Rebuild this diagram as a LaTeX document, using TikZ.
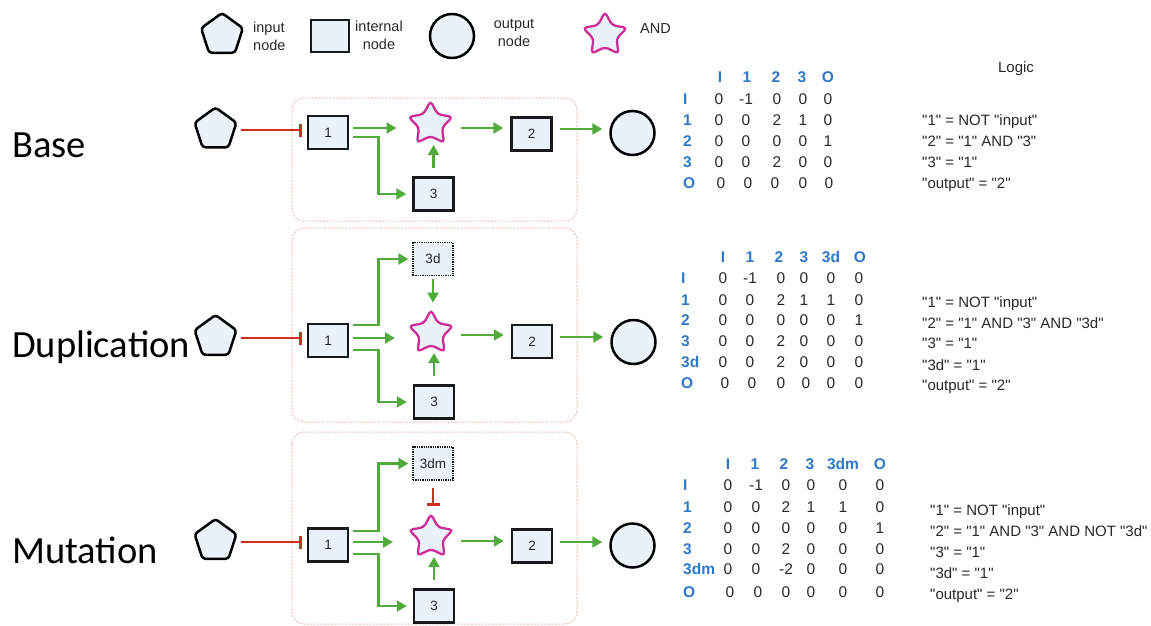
\documentclass[tikz,border=0pt]{standalone}
\usepackage{fontspec}
\setmainfont{Liberation Sans}
\newfontfamily\labelfont{Carlito}
\usetikzlibrary{shapes.geometric,arrows.meta}

\definecolor{nodefill}{RGB}{234,241,251}
\definecolor{actgreen}{RGB}{82,170,60}
\definecolor{inhred}{RGB}{210,45,35}
\definecolor{andpink}{RGB}{205,45,150}
\definecolor{hdrblue}{RGB}{45,120,200}
\definecolor{framepink}{RGB}{245,185,185}
\definecolor{txtgrey}{RGB}{40,40,40}

% straight double quote, set as a glyph so that no font mapping curls it
\newcommand\dq{\XeTeXglyph\XeTeXcharglyph"22\relax}
\newcommand\q[1]{\dq#1\dq}

\tikzset{
  inpt/.style={regular polygon, regular polygon sides=5, minimum size=44pt, inner sep=0pt,
    draw=black, line width=2.5pt, fill=nodefill, rounded corners=3pt},
  intern/.style={rectangle, minimum width=40pt, minimum height=33pt, inner sep=0pt,
    draw=black!90, line width=2.5pt, fill=nodefill, font=\fontsize{13.5}{15}\selectfont, text=txtgrey},
  dupl/.style={intern, line width=1.3pt, densely dotted},
  outpt/.style={circle, minimum size=44pt, inner sep=0pt, draw=black, line width=2.5pt, fill=nodefill},
  andgate/.style={star, star points=5, star point ratio=1.9, minimum size=46pt, inner sep=0pt,
    draw=andpink, line width=2.3pt, fill=nodefill, rounded corners=3.5pt},
  act/.style={draw=actgreen, line width=2.5pt, -{Triangle[length=10pt,width=11pt]}},
  inh/.style={draw=inhred, line width=2.4pt, -{Bar[width=13pt]}},
  frame/.style={draw=framepink, line width=1pt, dash pattern=on 2pt off 1.5pt, rounded corners=12pt},
  rowname/.style={font=\labelfont\fontsize{38.5}{42}\selectfont, anchor=base west, inner sep=0pt},
  cell/.style={font=\fontsize{15.5}{17}\selectfont, text=txtgrey, inner sep=0pt, text height=11pt, text depth=0pt},
  hdr/.style={cell, font=\fontsize{15.5}{17}\selectfont\bfseries, text=hdrblue},
  rlab/.style={hdr, anchor=west},
  logic/.style={cell, font=\fontsize{15}{17}\selectfont, anchor=west, text height=10.7pt},
  legend/.style={font=\fontsize{14.5}{18}\selectfont, text=txtgrey, inner sep=0pt}
}

% one row of a connection matrix: name prefix, y, column x list, values
\newcommand\matrow[4]{%
  \foreach \v [count=\k] in {#4} {
    \pgfmathsetmacro\xx{{#3}[\k-1]}
    \node[cell, name=#1-\k] at (\xx,#2) {\v};
  }}
\newcommand\hdrrow[4]{%
  \foreach \v [count=\k] in {#4} {
    \pgfmathsetmacro\xx{{#3}[\k-1]}
    \node[hdr, name=#1-\k] at (\xx,#2) {\v};
  }}

\begin{document}
\begin{tikzpicture}[x=1pt,y=-1pt]
\useasboundingbox (0,0) rectangle (1151,626);

% ---------------- legend ----------------
\node[inpt] (lgp) at (222,35) {};
\node[legend, anchor=west, align=left] (lgpt) at (253,36) {input\\node};
\node[intern, minimum width=38pt, minimum height=32pt] (lgb) at (330,36) {};
\node[legend, align=center] (lgbt) at (379,35) {internal\\node};
\node[outpt] (lgo) at (452,36) {};
\node[legend, align=center] (lgot) at (514,33) {output\\node};
\node[andgate] (lgs) at (605,35) {};
\node[legend, anchor=west] (lgst) at (640,29) {AND};

% ---------------- row names ----------------
\node[rowname] (nbase) at (12,157) {Base};
\node[rowname] (ndup) at (12,357) {Duplication};
\node[rowname] (nmut) at (12,563) {Mutation};

% ---------------- Base ----------------
\draw[frame] (292,98) rectangle (577,221);
\coordinate (ra) at (0,130);
\node[inpt] (pa) at (215.5,129.5) {};
\node[intern] (a1) at (328,132.5) {1};
\node[intern] (a3) at (433.5,194) {3};
\node[intern] (a2) at (531.5,134) {2};
\node[andgate] (sa) at (430.5,124) {};
\node[outpt] (oa) at (632.5,133) {};
\draw[inh, shorten <=5pt, shorten >=5pt] (pa.east |- ra) -- (a1.west |- ra);
\draw[act, shorten <=4pt, shorten >=34pt] ([yshift=2pt]a1.east |- ra) -- ([yshift=2pt]sa.center |- ra);
\draw[act, shorten <=4pt, shorten >=6pt] ([yshift=-7pt]a1.east |- ra) -- ++(29,0) |- (a3.west);
\draw[act, shorten <=8pt, shorten >=21pt] (a3.north) -- (a3.north |- sa.center);
\draw[act, shorten <=30pt, shorten >=7pt] ([yshift=2pt]sa.center |- ra) -- ([yshift=2pt]a2.west |- ra);
\draw[act, shorten <=7pt, shorten >=7pt] ([yshift=1pt]a2.east |- ra) -- ([yshift=1pt]oa.west |- ra);

% ---------------- Duplication ----------------
\draw[frame] (292,228) rectangle (577,422);
\coordinate (rb) at (0,338);
\node[inpt] (pb) at (215.5,337) {};
\node[intern] (b1) at (328,340.5) {1};
\node[dupl] (b3d) at (433,259) {3d};
\node[intern] (b3) at (434,402) {3};
\node[intern] (b2) at (532,341.5) {2};
\node[andgate] (sb) at (431,333) {};
\node[outpt] (ob) at (633.5,342) {};
\draw[inh, shorten <=5pt, shorten >=5pt] (pb.east |- rb) -- (b1.west |- rb);
\draw[act, shorten <=4pt, shorten >=4pt] ([yshift=13pt]b1.east |- rb) -- ++(29,0) |- (b3d.west);
\draw[act, shorten <=4pt, shorten >=36pt] (b1.east |- rb) -- (sb.center |- rb);
\draw[act, shorten <=4pt, shorten >=6pt] ([yshift=-12pt]b1.east |- rb) -- ++(29,0) |- (b3.west);
\draw[act, shorten <=3pt, shorten >=5pt] (b3d.south) -- (b3d.south |- sb.north);
\draw[act, shorten <=8pt, shorten >=20pt] (b3.north) -- (b3.north |- sb.center);
\draw[act, shorten <=30pt, shorten >=7pt] ([yshift=3pt]sb.center |- rb) -- ([yshift=3pt]b2.west |- rb);
\draw[act, shorten <=7pt, shorten >=7pt] ([yshift=1pt]b2.east |- rb) -- ([yshift=1pt]ob.west |- rb);

% ---------------- Mutation ----------------
\draw[frame] (292,432) rectangle (577,624);
\coordinate (rc) at (0,542);
\node[inpt] (pc) at (215.5,541) {};
\node[intern] (c1) at (328,545) {1};
\node[dupl] (c3d) at (433,463.5) {3dm};
\node[intern] (c3) at (434,606) {3};
\node[intern] (c2) at (532,546) {2};
\node[andgate] (sc) at (431,537) {};
\node[outpt] (oc) at (632.5,545.5) {};
\draw[inh, shorten <=5pt, shorten >=5pt] (pc.east |- rc) -- (c1.west |- rc);
\draw[act, shorten <=4pt, shorten >=4pt] ([yshift=11pt]c1.east |- rc) -- ++(29,0) |- (c3d.west);
\draw[act, shorten <=4pt, shorten >=38pt] (c1.east |- rc) -- (sc.center |- rc);
\draw[act, shorten <=4pt, shorten >=6pt] ([yshift=-12pt]c1.east |- rc) -- ++(29,0) |- (c3.west);
\draw[inh, shorten <=7pt, shorten >=6pt] (c3d.south) -- (c3d.south |- sc.north);
\draw[act, shorten <=8pt, shorten >=20pt] (c3.north) -- (c3.north |- sc.center);
\draw[act, shorten <=30pt, shorten >=7pt] ([yshift=1pt]sc.center |- rc) -- ([yshift=1pt]c2.west |- rc);
\draw[act, shorten <=7pt, shorten >=7pt] (c2.east |- rc) -- (oc.west |- rc);

% ---------------- Base matrix and logic ----------------
\hdrrow{ah}{77}{720,747,776,802,828}{I,1,2,3,O}
\foreach \r/\y/\l in {1/99/I,2/120/1,3/141/2,4/162/3,5/183/O}
  \node[rlab, name=al-\r] at (683,\y) {\l};
\matrow{am1}{99}{719,746,777,803,828}{0,-1,0,0,0}
\matrow{am2}{120}{719,746,777,803,828}{0,0,2,1,0}
\matrow{am3}{141}{719,746,777,803,828}{0,0,0,0,1}
\matrow{am4}{162}{719,746,777,803,828}{0,0,2,0,0}
\matrow{am5}{183}{721,748,775,803,829}{0,0,0,0,0}
\node[logic, anchor=center] (lgc) at (1016,67) {Logic};
\node[logic] (la1) at (922,120) {\q{1} = NOT \q{input}};
\node[logic] (la2) at (922,141) {\q{2} = \q{1} AND \q{3}};
\node[logic] (la3) at (922,162) {\q{3} = \q{1}};
\node[logic] (la4) at (922,183) {\q{output} = \q{2}};

% ---------------- Duplication matrix and logic ----------------
\hdrrow{bh}{257}{723,750,779,804,831,860}{I,1,2,3,3d,O}
\foreach \r/\y/\l in {1/278/I,2/300/1,3/320/2,4/341/3,5/362/3d,6/383/O}
  \node[rlab, name=bl-\r] at (681,\y) {\l};
\matrow{bm1}{278}{723,750,781,804,831,859}{0,-1,0,0,0,0}
\matrow{bm2}{300}{723,750,781,804,831,859}{0,0,2,1,1,0}
\matrow{bm3}{320}{723,750,781,804,831,859}{0,0,0,0,0,1}
\matrow{bm4}{341}{723,750,781,804,831,859}{0,0,2,0,0,0}
\matrow{bm5}{362}{723,750,781,804,831,859}{0,0,2,0,0,0}
\matrow{bm6}{383}{725,752,781,806,831,859}{0,0,0,0,0,0}
\node[logic] (lb1) at (922,302) {\q{1} = NOT \q{input}};
\node[logic] (lb2) at (922,323) {\q{2} = \q{1} AND \q{3} AND \q{3d}};
\node[logic] (lb3) at (922,343) {\q{3} = \q{1}};
\node[logic] (lb4) at (922,365) {\q{3d} = \q{1}};
\node[logic] (lb5) at (922,385) {\q{output} = \q{2}};

% ---------------- Mutation matrix and logic ----------------
\hdrrow{ch}{464}{728,755,784,810,843,880}{I,1,2,3,3dm,O}
\foreach \r/\y/\l in {1/485/I,2/507/1,3/528/2,4/549/3,5/569/3dm,6/592/O}
  \node[rlab, name=cl-\r] at (683,\y) {\l};
\matrow{cm1}{485}{728,756,786,811,843,880}{0,-1,0,0,0,0}
\matrow{cm2}{507}{728,756,786,811,843,880}{0,0,2,1,1,0}
\matrow{cm3}{528}{728,756,786,811,843,880}{0,0,0,0,0,1}
\matrow{cm4}{549}{728,756,786,811,843,880}{0,0,2,0,0,0}
\matrow{cm5}{569}{728,756,786,811,843,880}{0,0,-2,0,0,0}
\matrow{cm6}{592}{730,758,786,811,843,880}{0,0,0,0,0,0}
\node[logic] (lc1) at (930,510) {\q{1} = NOT \q{input}};
\node[logic] (lc2) at (930,531) {\q{2} = \q{1} AND \q{3} AND NOT \q{3d}};
\node[logic] (lc3) at (930,552) {\q{3} = \q{1}};
\node[logic] (lc4) at (930,573) {\q{3d} = \q{1}};
\node[logic] (lc5) at (930,594) {\q{output} = \q{2}};
\end{tikzpicture}
\end{document}
